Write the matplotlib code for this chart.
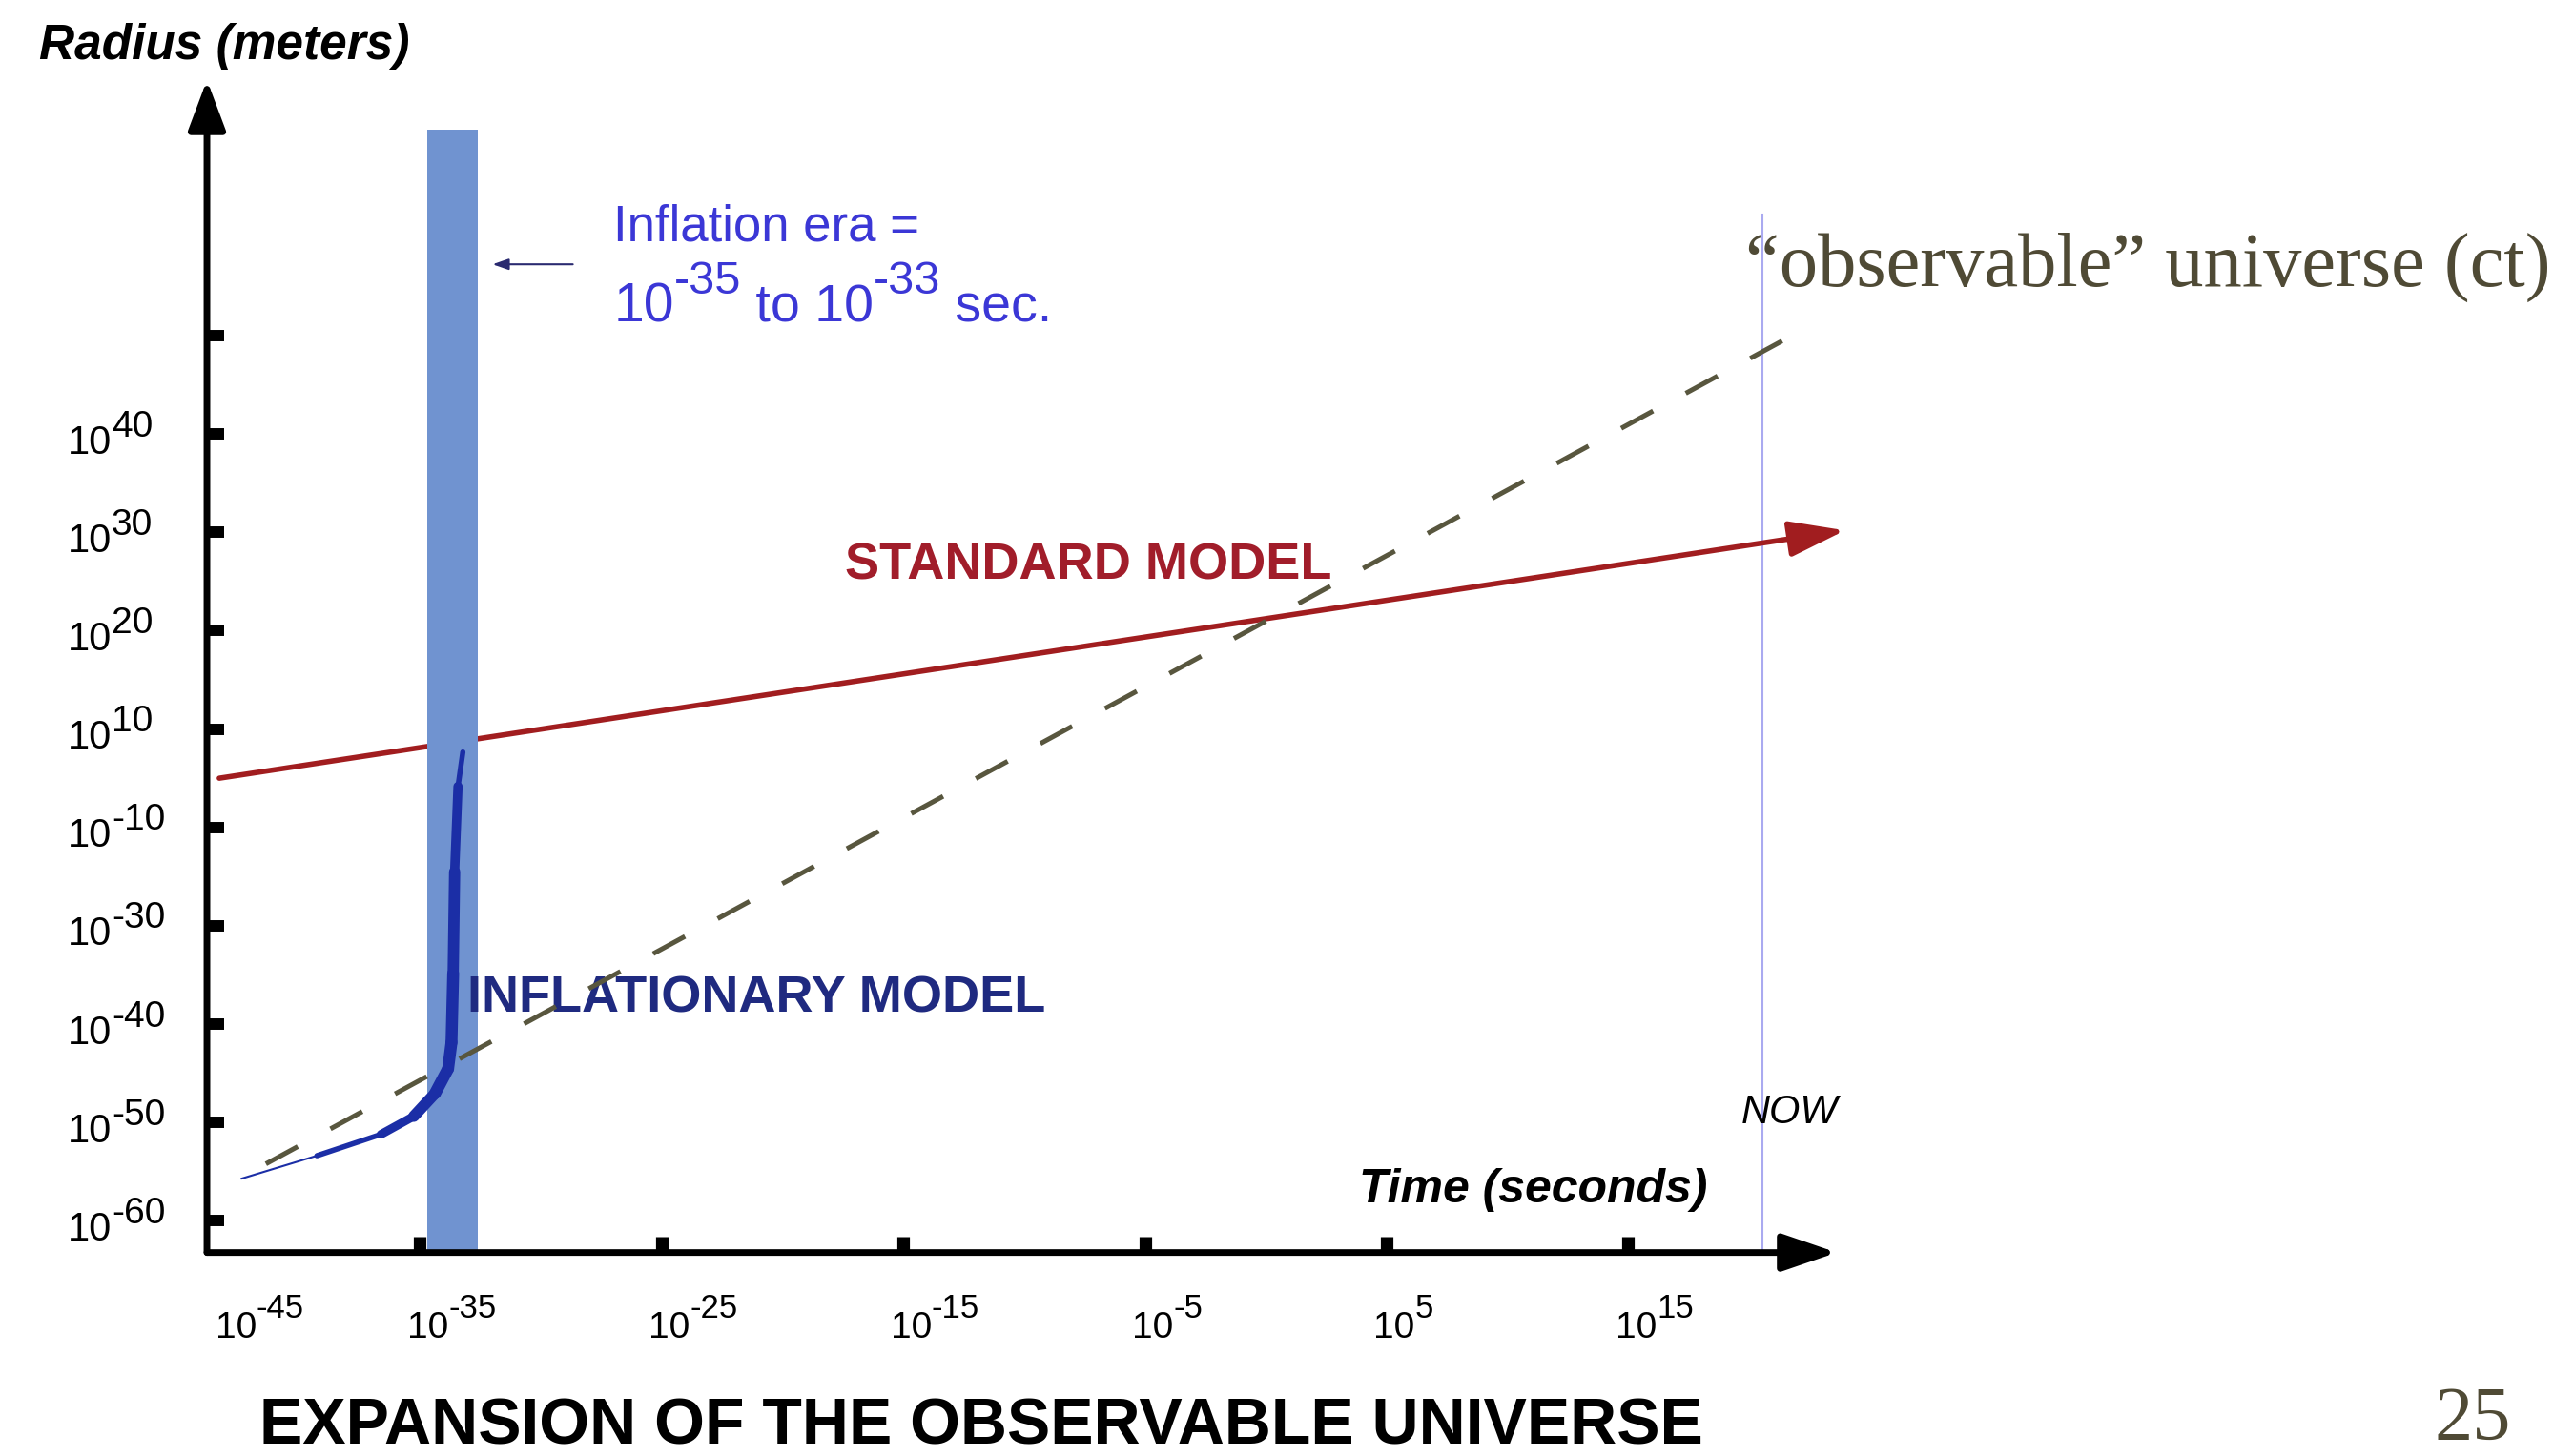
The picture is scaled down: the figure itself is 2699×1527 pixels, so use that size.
import numpy as np
import matplotlib.pyplot as plt
import matplotlib.transforms as mtransforms
from matplotlib.collections import LineCollection

plt.rcParams['font.family'] = ['Liberation Sans', 'DejaVu Sans']

# x = log10(time / s); y = slot of the radius tick (the slide's radius ticks are not evenly spaced)
time_ticks = [-35, -25, -15, -5, 5, 15]
time_label_exp = [-45, -35, -25, -15, -5, 5, 15]
radius_labels = ["-60", "-50", "-40", "-30", "-10", "10", "20", "30", "40", ""]

inflation_era = [-34.7, -32.6]
now_t = 20.56

standard_t = [-43.31, 23.97]
standard_r = [4.50, 7.02]

ct_t = [-41.38, 22.07]
ct_r = [0.578, 9.04]

infl_t = [-42.40, -39.27, -36.62, -35.26, -34.38, -33.84, -33.70, -33.63, -33.57, -33.43, -33.23]
infl_r = [0.427, 0.661, 0.878, 1.062, 1.295, 1.546, 1.813, 2.514, 3.548, 4.416, 4.766]

# layout of the hand drawn axes
x0, y0 = -43.82, -0.324
x_end, y_end = 23.63, 11.6
band_top = 11.1
now_top = 10.23

fig = plt.figure(figsize=(26.99, 15.27), dpi=100)
ax = fig.add_axes([0, 0, 1, 1])
ax.set_xlim(-52.385, 54.14)
ax.set_ylim(-2.393, 12.414)
ax.axis('off')
renderer = fig.canvas.get_renderer()


def sup_text(x, y, parts, color='black', **kw):
    # draws "10" + raised exponent etc. piece by piece
    dx = 0.0
    for s, size, rise in parts:
        tr = mtransforms.offset_copy(ax.transData, fig=fig, x=dx, y=rise, units='points')
        t = ax.text(x, y, s, transform=tr, fontsize=size, color=color,
                    ha='left', va='baseline', **kw)
        dx += t.get_window_extent(renderer).width * 72.0 / fig.dpi


# inflation era band
ax.fill_between(inflation_era, [y0, y0], [band_top, band_top], color='#7093d0', lw=0, zorder=3)

# NOW line
ax.plot([now_t, now_t], [y0, now_top], color='#aaaaf0', lw=1.5, zorder=2)

# standard model
ax.annotate('', xy=(standard_t[1], standard_r[1]), xytext=(standard_t[0], standard_r[0]),
            arrowprops=dict(arrowstyle='-|>,head_length=3.6,head_width=1.15', color='#a11d1f',
                            lw=4, shrinkA=0, shrinkB=0, mutation_scale=10), zorder=2)

# inflationary model, tapered
pts = np.column_stack([infl_t, infl_r])
segs = np.stack([pts[:-1], pts[1:]], axis=1)
widths = [1.5, 4, 6.5, 8.5, 9, 9, 9, 8.5, 7, 4]
lc = LineCollection(segs, linewidths=widths, colors='#1b2ea6', capstyle='round',
                    joinstyle='round', zorder=4)
ax.add_collection(lc)

# ct line
ax.plot(ct_t, ct_r, color='#58563e', lw=3.6, dashes=(7.6, 7.8), solid_capstyle='butt', zorder=5)

# axes with arrows
ax.annotate('', xy=(x0, y_end), xytext=(x0, y0),
            arrowprops=dict(arrowstyle='-|>,head_length=3.2,head_width=1.2', color='black',
                            lw=5, shrinkA=0, shrinkB=0, mutation_scale=10), zorder=6)
ax.annotate('', xy=(x_end, y0), xytext=(x0, y0),
            arrowprops=dict(arrowstyle='-|>,head_length=3.5,head_width=1.2', color='black',
                            lw=5, shrinkA=0, shrinkB=0, mutation_scale=10), zorder=6)

ax.hlines(np.arange(len(radius_labels)), x0, x0 + 0.71, color='black', lw=8.6, zorder=6)
ax.vlines(time_ticks, y0, y0 + 0.165, color='black', lw=9.5, zorder=6)

for i, lab in enumerate(radius_labels):
    if lab:
        sup_text(-49.6, i - 0.2, [("10", 30, 0), (lab, 28, 13)])

for e in time_label_exp:
    sup_text(max(e - 0.54, x0 + 0.34), -1.19, [("10", 28, 0), (str(e), 25, 15)])

# texts
ax.text(-50.75, 11.81, "Radius (meters)", fontsize=37, fontweight='bold', style='italic',
        ha='left', va='baseline')
ax.text(3.87, 0.184, "Time (seconds)", fontsize=36, fontweight='bold', style='italic',
        ha='left', va='baseline')
ax.text(19.69, 0.995, "NOW", fontsize=30, style='italic', ha='left', va='baseline')
ax.text(-17.40, 6.52, "STANDARD MODEL", fontsize=39, fontweight='bold', color='#a11d2a',
        ha='left', va='baseline', zorder=7)
ax.text(-33.06, 2.12, "INFLATIONARY MODEL", fontsize=39, fontweight='bold', color='#1f2a80',
        ha='left', va='baseline', zorder=4)

ax.text(-27.0, 9.97, "Inflation era =", fontsize=38, color='#3b37d6', ha='left', va='baseline')
sup_text(-27.0, 9.145, [("10", 41, 0), ("-35", 35, 21), (" to 10", 40, 0), ("-33", 35, 21),
                        (" sec.", 40, 0)], color='#3b37d6')
ax.annotate('', xy=(-32.0, 9.726), xytext=(-28.68, 9.726),
            arrowprops=dict(arrowstyle='-|>,head_length=1.0,head_width=0.35', color='#2a2a70',
                            lw=1.5, shrinkA=0, shrinkB=0, mutation_scale=10))

ax.text(19.84, 9.504, "\u201cobservable\u201d universe (ct)", fontsize=58, color='#4f4a35',
        family='Liberation Serif', ha='left', va='baseline')
ax.text(48.36, -2.227, "25", fontsize=58, color='#4f4a35', family='Liberation Serif',
        ha='left', va='baseline')
ax.text(-11.76, -2.27, "EXPANSION OF THE OBSERVABLE UNIVERSE", fontsize=49, fontweight='bold',
        ha='center', va='baseline')

fig.savefig('out.png', dpi=100, facecolor='white')
